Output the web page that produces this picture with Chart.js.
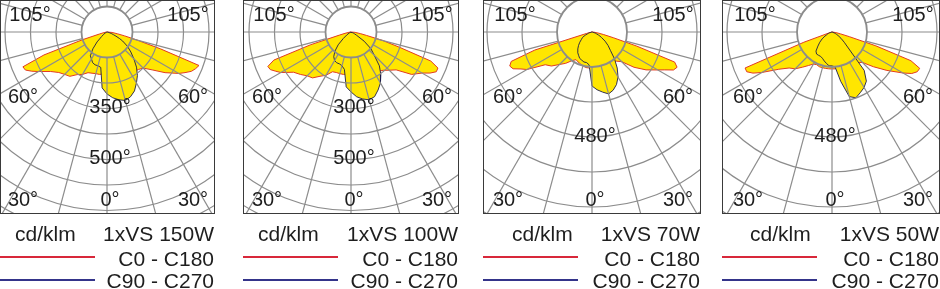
<!DOCTYPE html>
<html>
<head>
<meta charset="utf-8">
<script src="https://cdn.jsdelivr.net/npm/chart.js@4.4.0/dist/chart.umd.min.js"></script>
<style>
  html, body { margin: 0; padding: 0; background: #fff; }
  body { width: 940px; height: 289px; position: relative; overflow: hidden;
         font-family: "Liberation Sans", Arial, sans-serif; color: #1e1e1e; }
  .panel { position: absolute; top: 0; }
  .panel canvas { position: absolute; left: 0; top: 0; }
  .frame { position: absolute; left: 0; top: 0; box-sizing: border-box;
           border: 1.5px solid #3a3a3a; pointer-events: none; }
  .txt { position: absolute; font-size: 21px; line-height: 21px; white-space: nowrap; }
  .key { position: absolute; height: 2px; }
</style>
</head>
<body>
<script>
// angle from nadir (deg), shared by every half-curve
const gamma = [0, 5, 10, 15, 20, 25, 30, 35, 40, 45, 50, 55, 60, 62.5, 65, 67.5, 70, 72.5, 75, 77.5, 80, 85, 90];

// cd/klm, 1xVS 150W
const vs150_c0   = [165, 165, 169, 172, 176, 180, 184, 188, 192, 200, 231, 278, 325, 345, 365, 376, 384, 220, 122, 71, 43, 20, 0];
const vs150_c180 = [165, 165, 169, 169, 172, 176, 192, 204, 227, 235, 247, 270, 310, 333, 353, 357, 263, 102, 31, 16, 8, 4, 0];
const vs150_c90  = [243, 259, 270, 278, 270, 255, 231, 208, 180, 149, 122, 98, 71, 55, 39, 27, 20, 12, 8, 4, 4, 0, 0];
const vs150_c270 = [243, 220, 141, 137, 137, 133, 122, 114, 86, 55, 27, 16, 8, 4, 0, 0, 0, 0, 0, 0, 0, 0, 0];

// 1xVS 100W
const vs100_c0   = [165, 165, 169, 172, 176, 180, 184, 188, 196, 212, 231, 290, 322, 349, 369, 369, 333, 200, 129, 63, 39, 16, 0];
const vs100_c180 = [165, 165, 169, 169, 169, 172, 196, 212, 235, 243, 259, 275, 318, 333, 349, 353, 322, 165, 47, 24, 12, 4, 0];
const vs100_c90  = [235, 255, 267, 275, 270, 251, 231, 204, 173, 129, 102, 63, 24, 16, 12, 8, 4, 0, 0, 0, 0, 0, 0];
const vs100_c270 = [235, 216, 149, 137, 133, 133, 129, 118, 98, 71, 39, 20, 8, 4, 0, 0, 0, 0, 0, 0, 0, 0, 0];

// 1xVS 70W
const vs70_c0   = [165, 165, 165, 165, 165, 165, 165, 165, 174, 192, 251, 302, 347, 375, 411, 421, 402, 215, 101, 55, 32, 9, 0];
const vs70_c180 = [165, 165, 165, 160, 155, 151, 146, 160, 187, 210, 242, 261, 343, 366, 398, 407, 393, 274, 27, 9, 5, 0, 0];
const vs70_c90  = [247, 265, 279, 293, 283, 265, 238, 201, 160, 119, 96, 73, 50, 41, 32, 23, 18, 14, 9, 5, 5, 0, 0];
const vs70_c270 = [247, 151, 142, 142, 137, 133, 123, 114, 101, 87, 73, 59, 50, 41, 32, 23, 18, 14, 9, 5, 5, 0, 0];

// 1xVS 50W
const vs50_c0   = [169, 169, 169, 169, 169, 169, 169, 174, 183, 197, 247, 306, 375, 411, 430, 434, 384, 210, 82, 41, 23, 5, 0];
const vs50_c180 = [169, 169, 169, 169, 169, 165, 169, 187, 210, 238, 256, 297, 370, 407, 430, 430, 137, 14, 5, 0, 0, 0, 0];
const vs50_c90  = [155, 160, 229, 306, 320, 306, 293, 274, 229, 110, 73, 50, 32, 23, 18, 14, 9, 5, 5, 0, 0, 0, 0];
const vs50_c270 = [155, 155, 146, 137, 128, 123, 123, 123, 114, 91, 73, 55, 37, 27, 23, 18, 14, 9, 5, 0, 0, 0, 0];

const titles = ['1xVS 150W', '1xVS 100W', '1xVS 70W', '1xVS 50W'];
const ringSteps = [100, 100, 160, 160];
const ringTexts = [['350°', '500°'], ['300°', '500°'], ['480°'], ['480°']];
const ringIdx = [[3, 5], [3, 5], [3], [3]];
const curves = [
    [vs150_c0, vs150_c180, vs150_c90, vs150_c270],
    [vs100_c0, vs100_c180, vs100_c90, vs100_c270],
    [vs70_c0, vs70_c180, vs70_c90, vs70_c270],
    [vs50_c0, vs50_c180, vs50_c90, vs50_c270]
];

// layout of the four boxes
const boxes = [
    { left: 0,   width: 215, cx: 107, ringPx: 25.5, rings: 9, cdLeft: 15 },
    { left: 243, width: 216, cx: 108, ringPx: 25.5, rings: 9, cdLeft: 15 },
    { left: 483, width: 218, cx: 109, ringPx: 35,   rings: 7, cdLeft: 29 },
    { left: 722, width: 218, cx: 110, ringPx: 35,   rings: 7, cdLeft: 28 }
];
const BOX_H = 214, CY = 32;
const YELLOW = '#ffe600', RED = '#e23a22', NAVY = '#1c1c4a';

// closed outline: left half nadir->90deg, then right half 90deg->nadir
function outline(left, right) {
    const pts = [];
    gamma.forEach((g, i) => {
        const a = g * Math.PI / 180;
        pts.push({ x: -left[i] * Math.sin(a), y: -left[i] * Math.cos(a) });
    });
    for (let i = gamma.length - 1; i >= 0; i--) {
        const a = gamma[i] * Math.PI / 180;
        pts.push({ x: right[i] * Math.sin(a), y: -right[i] * Math.cos(a) });
    }
    return pts;
}

// rings and 15deg spokes, drawn over the fills like the original
const polarGrid = {
    id: 'polarGrid',
    afterDatasetsDraw(chart, args, opts) {
        const { ctx, scales: { x, y } } = chart;
        const cx = x.getPixelForValue(0), cy = y.getPixelForValue(0);
        const unit = x.getPixelForValue(opts.step) - cx;
        ctx.save();
        ctx.strokeStyle = '#8c8c8c';
        for (let k = 1; k <= opts.rings; k++) {
            ctx.lineWidth = k === 1 ? 1.8 : 1.2;
            ctx.beginPath();
            ctx.arc(cx, cy, k * unit, 0, Math.PI * 2);
            ctx.stroke();
        }
        ctx.lineWidth = 1.2;
        for (let a = 0; a < 360; a += 15) {
            const t = a * Math.PI / 180;
            const sx = Math.sin(t), sy = Math.cos(t);
            ctx.beginPath();
            ctx.moveTo(cx + sx * unit, cy + sy * unit);
            ctx.lineTo(cx + sx * unit * opts.rings, cy + sy * unit * opts.rings);
            ctx.stroke();
        }
        ctx.restore();
    }
};

const angleTexts = [
    ['105°', -77, -17], ['105°', 81, -17],
    ['60°', -84, 65], ['60°', 86, 65],
    ['30°', -84, 168], ['30°', 86, 168],
    ['0°', 3, 168]
];

const polarLabels = {
    id: 'polarLabels',
    afterDraw(chart, args, opts) {
        const { ctx, scales: { x, y } } = chart;
        const cx = x.getPixelForValue(0), cy = y.getPixelForValue(0);
        ctx.save();
        ctx.font = '20px "Liberation Sans", Arial, sans-serif';
        ctx.fillStyle = '#1e1e1e';
        ctx.textAlign = 'center';
        ctx.textBaseline = 'middle';
        angleTexts.forEach(([t, dx, dy]) => ctx.fillText(t, cx + dx, cy + dy));
        opts.rings.forEach((k, i) => {
            const r = y.getPixelForValue(-k * opts.step);
            ctx.fillText(opts.texts[i], cx + 3, r - 1);
        });
        ctx.restore();
    }
};

function addText(text, left, top, extra) {
    const d = document.createElement('div');
    d.className = 'txt';
    d.textContent = text;
    d.style.left = left + 'px';
    d.style.top = top + 'px';
    if (extra) Object.assign(d.style, extra);
    document.body.appendChild(d);
}

function addKey(color, left, top) {
    const d = document.createElement('div');
    d.className = 'key';
    d.style.left = left + 'px';
    d.style.top = top + 'px';
    d.style.width = '95px';
    d.style.background = color;
    document.body.appendChild(d);
}

boxes.forEach((b, p) => {
    const panel = document.createElement('div');
    panel.className = 'panel';
    panel.style.left = b.left + 'px';
    panel.style.width = b.width + 'px';
    panel.style.height = BOX_H + 'px';
    const canvas = document.createElement('canvas');
    canvas.width = b.width;
    canvas.height = BOX_H;
    panel.appendChild(canvas);
    const frame = document.createElement('div');
    frame.className = 'frame';
    frame.style.width = b.width + 'px';
    frame.style.height = BOX_H + 'px';
    panel.appendChild(frame);
    document.body.appendChild(panel);

    const [c0, c180, c90, c270] = curves[p];
    const ppu = b.ringPx / ringSteps[p];

    new Chart(canvas, {
        type: 'scatter',
        data: {
            datasets: [{
                label: 'C90 - C270',
                data: outline(c270, c90),
                showLine: true,
                borderColor: NAVY,
                borderWidth: 0.9,
                backgroundColor: YELLOW,
                fill: 'shape',
                pointRadius: 0,
                tension: 0
            }, {
                label: 'C0 - C180',
                data: outline(c180, c0),
                showLine: true,
                borderColor: RED,
                borderWidth: 1,
                backgroundColor: YELLOW,
                fill: 'shape',
                pointRadius: 0,
                tension: 0
            }]
        },
        options: {
            responsive: false,
            animation: false,
            events: [],
            layout: { padding: 0 },
            plugins: {
                legend: { display: false },
                tooltip: { enabled: false },
                polarGrid: { step: ringSteps[p], rings: b.rings },
                polarLabels: { step: ringSteps[p], rings: ringIdx[p], texts: ringTexts[p] }
            },
            scales: {
                x: { type: 'linear', display: false, min: -b.cx / ppu, max: (b.width - b.cx) / ppu },
                y: { type: 'linear', display: false, min: -(BOX_H - CY) / ppu, max: CY / ppu }
            }
        },
        plugins: [polarGrid, polarLabels]
    });

    // legend block under the box
    const right = b.left + b.width - 1;
    addText('cd/klm', b.left + b.cdLeft, 223);
    addText(titles[p], b.left, 223, { width: (right - b.left) + 'px', textAlign: 'right' });
    addKey('#d8283a', b.left, 256);
    addText('C0 - C180', b.left, 248, { width: (right - b.left) + 'px', textAlign: 'right' });
    addKey('#34348a', b.left, 279);
    addText('C90 - C270', b.left, 270, { width: (right - b.left) + 'px', textAlign: 'right' });
});
</script>
</body>
</html>
